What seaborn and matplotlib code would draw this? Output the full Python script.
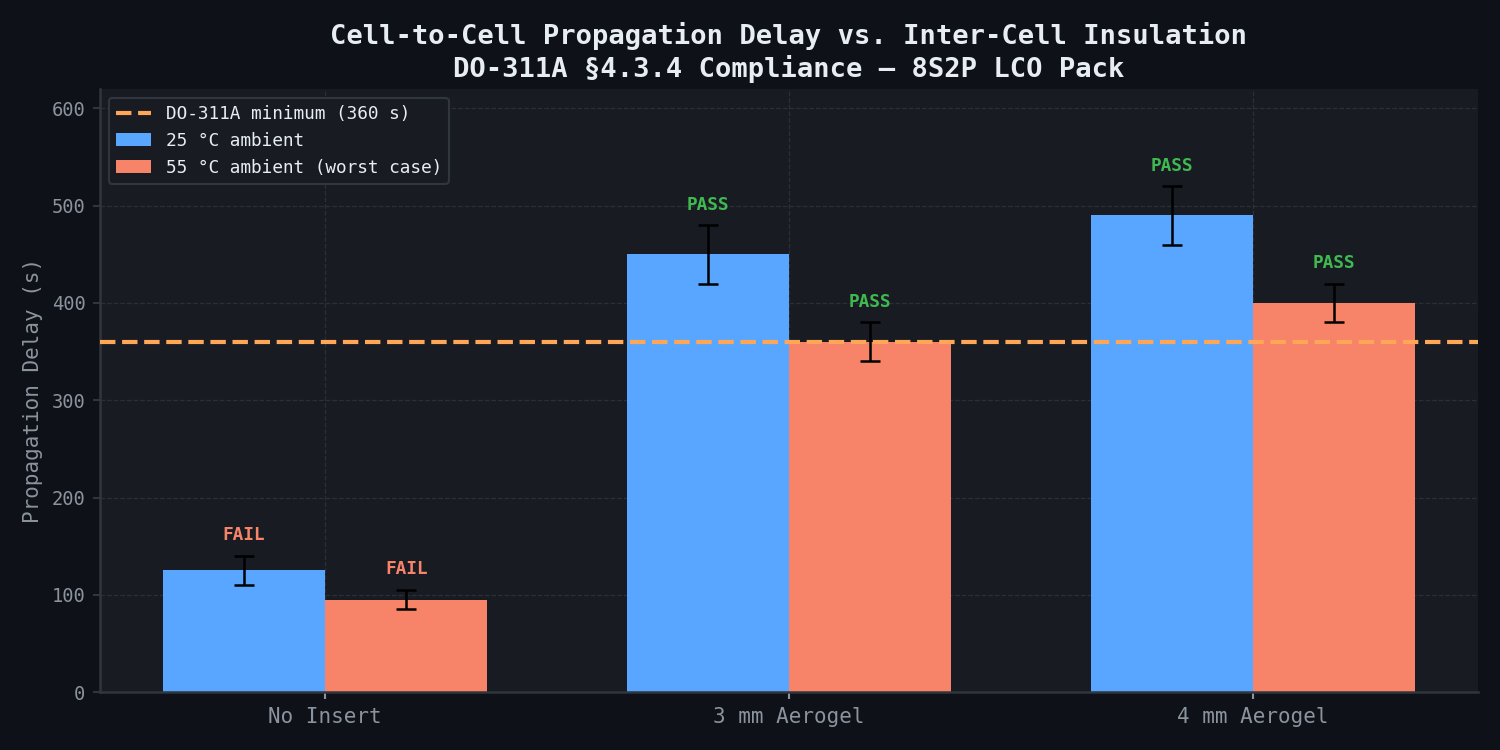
import matplotlib
matplotlib.use("Agg")
import matplotlib.pyplot as plt
import seaborn as sns
import pandas as pd
import numpy as np

categories = ["No Insert", "3 mm Aerogel", "4 mm Aerogel"]
series_names = ["25 °C ambient", "55 °C ambient (worst case)"]
delay_25 = [125, 450, 490]
err_25 = [15, 30, 30]
delay_55 = [95, 360, 400]
err_55 = [10, 20, 20]
limit = 360
limit_label = "DO-311A minimum (360 s)"

FIG_BG = "#0e1117"
AX_BG = "#181b22"
BLUE = "#58a6ff"
SALMON = "#f78369"
ORANGE = "#ffa657"
GREEN = "#3fb950"
TEXT = "#e6edf3"
MUTED = "#8b949e"
GRID = "#30363d"

sns.set_theme(style="dark")
plt.rcParams["font.family"] = ["DejaVu Sans Mono", "DejaVu Sans"]

df = pd.DataFrame({
    "Insulation": categories * 2,
    "Condition": [series_names[0]] * 3 + [series_names[1]] * 3,
    "Delay": delay_25 + delay_55,
    "Err": err_25 + err_55,
})

fig, ax = plt.subplots(figsize=(10, 5), dpi=150)
fig.patch.set_facecolor(FIG_BG)
ax.set_facecolor(AX_BG)
fig.subplots_adjust(left=0.0667, right=0.9853, top=0.8813, bottom=0.0773)

sns.barplot(data=df, x="Insulation", y="Delay", hue="Condition",
            palette=[BLUE, SALMON], width=0.7, errorbar=None,
            saturation=1, ax=ax, zorder=2, linewidth=0, edgecolor="none")

# error bars and PASS/FAIL labels from bar geometry
bars = [p for p in ax.patches if p.get_height() > 0]
bars = sorted(bars, key=lambda p: p.get_x())
vals = []
for i in range(3):
    vals.append((delay_25[i], err_25[i]))
    vals.append((delay_55[i], err_55[i]))
for p, (v, e) in zip(bars, vals):
    xc = p.get_x() + p.get_width() / 2
    ax.errorbar(xc, v, yerr=e, fmt="none", ecolor="black", elinewidth=1.2,
                capsize=5, capthick=1.2, zorder=4)
    ok = v >= limit
    ax.text(xc, v + e + 12, "PASS" if ok else "FAIL", ha="center", va="bottom",
            color=GREEN if ok else SALMON, fontsize=8.5, fontweight="bold", zorder=5)

ax.axhline(limit, color=ORANGE, linestyle="--", linewidth=2, zorder=3, label=limit_label)

ax.set_ylim(0, 620)
ax.set_yticks([0, 100, 200, 300, 400, 500, 600])
ax.set_xlabel("")
ax.set_ylabel("Propagation Delay (s)", color=MUTED, fontsize=10)
ax.tick_params(axis="both", colors=MUTED, length=3.5, width=1,
               bottom=True, left=True)
ax.tick_params(axis="x", labelcolor=MUTED, color=MUTED, labelsize=10)
ax.tick_params(axis="y", labelcolor=MUTED, color=GRID, labelsize=9)
ax.set_title("Cell-to-Cell Propagation Delay vs. Inter-Cell Insulation\n"
             "DO-311A §4.3.4 Compliance — 8S2P LCO Pack",
             color=TEXT, fontsize=13, fontweight="bold", pad=6)

ax.grid(True, color=GRID, linestyle="--", linewidth=0.6, alpha=0.8)
ax.set_axisbelow(True)
for s in ["top", "right"]:
    ax.spines[s].set_visible(False)
for s in ["left", "bottom"]:
    ax.spines[s].set_visible(True)
    ax.spines[s].set_color(GRID)
    ax.spines[s].set_linewidth(1.2)

handles, labels = ax.get_legend_handles_labels()
order = [labels.index(limit_label)] + [labels.index(n) for n in series_names]
leg = ax.legend([handles[i] for i in order], [labels[i] for i in order],
                loc="upper left", fontsize=8.5, facecolor=AX_BG, edgecolor=GRID,
                framealpha=1, labelcolor=TEXT)

fig.savefig("out.png", dpi=150, facecolor=FIG_BG)
